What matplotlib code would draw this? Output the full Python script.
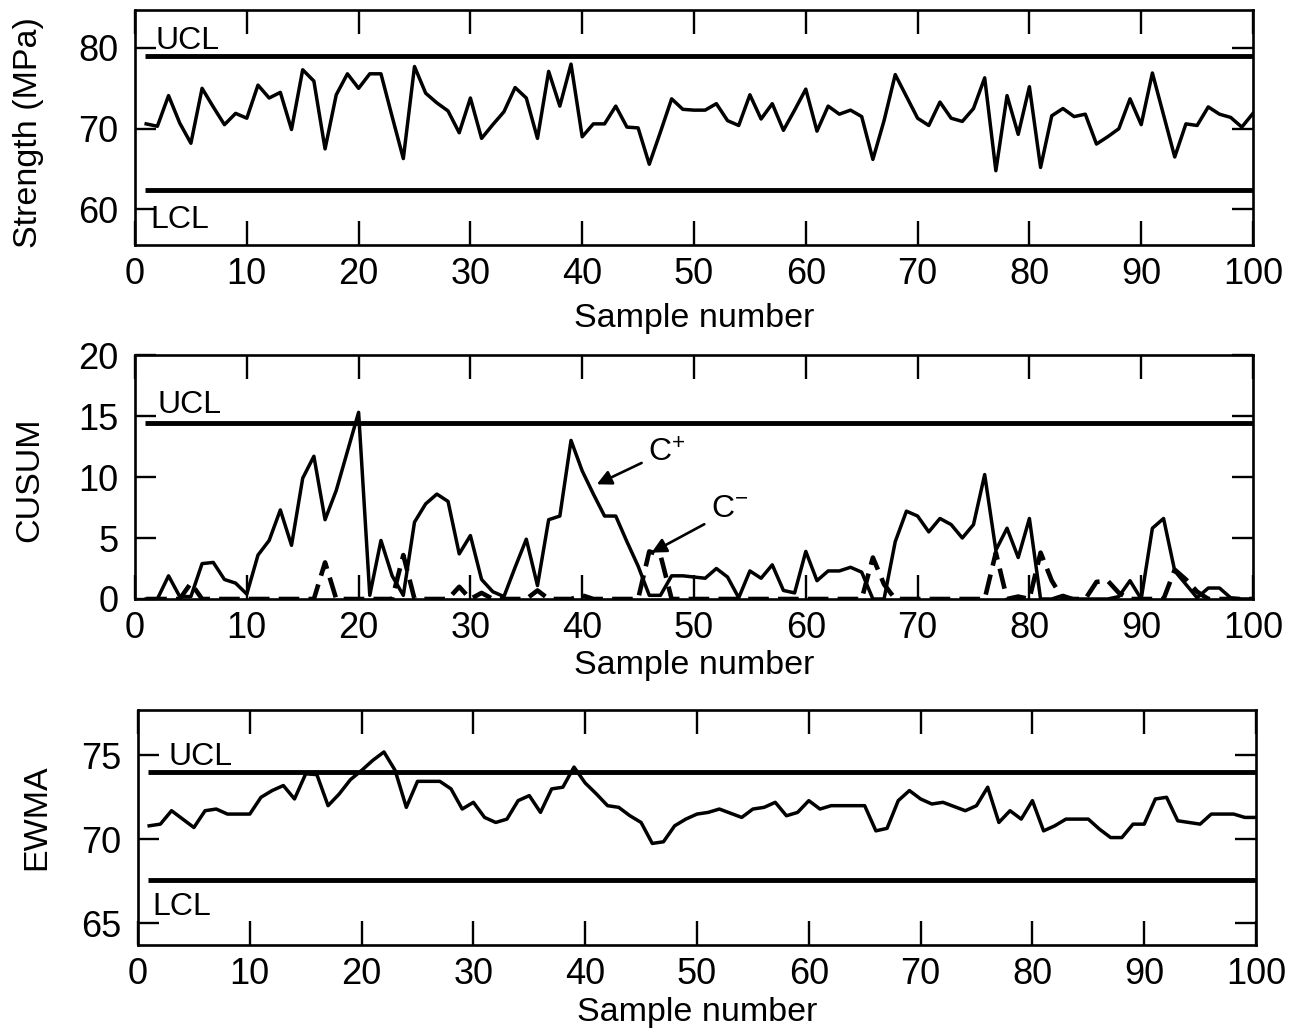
import numpy as np
import matplotlib
matplotlib.use('Agg')
import matplotlib.pyplot as plt

plt.rcParams['font.family'] = ['Liberation Sans', 'DejaVu Sans']
plt.rcParams['mathtext.fontset'] = 'custom'
plt.rcParams['mathtext.rm'] = 'Liberation Sans'
plt.rcParams['mathtext.it'] = 'Liberation Sans:italic'

samples = list(range(1, 101))

# strength of each sample (MPa)
strength = [70.6, 70.3, 74.1, 70.7, 68.2, 75.0, 72.7, 70.5, 71.9, 71.3,
            75.4, 73.8, 74.5, 69.9, 77.3, 75.9, 67.5, 74.2, 76.8, 75.0,
            76.8, 76.8, 71.5, 66.3, 77.7, 74.4, 73.2, 72.2, 69.5, 73.8,
            68.8, 70.5, 72.1, 75.1, 73.8, 68.8, 77.1, 72.8, 78.0, 69.0,
            70.6, 70.6, 72.8, 70.2, 70.1, 65.6, 69.6, 73.7, 72.4, 72.3,
            72.3, 73.1, 71.0, 70.4, 74.2, 71.2, 73.1, 69.8, 72.3, 74.9,
            69.7, 72.8, 71.8, 72.3, 71.5, 66.2, 71.0, 76.7, 74.0, 71.3,
            70.4, 73.3, 71.3, 70.9, 72.5, 76.3, 64.8, 74.1, 69.3, 75.2,
            65.2, 71.6, 72.5, 71.5, 71.8, 68.1, 69.0, 70.0, 73.7, 70.5,
            76.9, 71.7, 66.5, 70.6, 70.4, 72.7, 71.8, 71.4, 70.2, 71.9]

c_plus = [0, 0, 1.9, 0.2, 0.2, 2.9, 3.0, 1.6, 1.3, 0.4,
          3.6, 4.8, 7.3, 4.4, 9.9, 11.7, 6.5, 8.9, 12.1, 15.3,
          0.3, 4.8, 1.9, 0.3, 6.3, 7.8, 8.6, 8.0, 3.7, 5.2,
          1.6, 0.6, 0.2, 2.6, 4.9, 1.1, 6.5, 6.8, 13.0, 10.5,
          8.6, 6.8, 6.8, 4.7, 2.7, 0.3, 0.3, 1.9, 1.9, 1.8,
          1.7, 2.5, 1.8, 0.1, 2.3, 1.7, 2.8, 0.7, 0.5, 3.9,
          1.5, 2.3, 2.3, 2.6, 2.2, 0, 0, 4.7, 7.2, 6.8,
          5.5, 6.6, 6.1, 5.0, 6.1, 10.2, 4.0, 5.8, 3.4, 6.6,
          0, 0, 0.3, 0, 0, 0, 0, 0.2, 1.5, 0,
          5.8, 6.6, 2.3, 1.2, 0.1, 0.9, 0.9, 0.1, 0, 0]

c_minus = [0, 0, 0, 0, 1.3, 0, 0, 0, 0, 0,
           0, 0, 0, 0, 0, 0, 3.0, 0, 0, 0,
           0, 0, 0, 3.6, 0, 0, 0, 0, 1.0, 0,
           0.5, 0, 0, 0, 0, 0.7, 0, 0, 0, 0.3,
           0, 0, 0, 0, 0, 3.9, 3.6, 0, 0, 0,
           0, 0, 0, 0, 0, 0, 0, 0, 0, 0,
           0, 0, 0, 0, 0, 3.4, 1.2, 0, 0, 0,
           0, 0, 0, 0, 0, 0, 3.8, 0, 0.2, 0,
           3.8, 1.5, 0, 0, 0, 1.4, 1.5, 0.5, 0, 0,
           0, 0, 2.4, 1.6, 0.6, 0, 0, 0, 0, 0]

ewma = [70.8, 70.9, 71.7, 71.2, 70.7, 71.7, 71.8, 71.5, 71.5, 71.5,
        72.5, 72.9, 73.2, 72.4, 73.9, 73.85, 72.0, 72.7, 73.55, 74.1,
        74.7, 75.2, 74.1, 71.9, 73.45, 73.45, 73.45, 73.0, 71.8, 72.2,
        71.3, 71.0, 71.2, 72.3, 72.6, 71.6, 73.0, 73.1, 74.3, 73.35,
        72.7, 72.0, 71.9, 71.4, 71.0, 69.75, 69.85, 70.8, 71.2, 71.5,
        71.6, 71.8, 71.55, 71.3, 71.8, 71.9, 72.2, 71.4, 71.6, 72.3,
        71.8, 72.0, 72.0, 72.0, 72.0, 70.5, 70.65, 72.3, 72.9, 72.4,
        72.1, 72.2, 71.95, 71.7, 72.0, 73.1, 71.0, 71.7, 71.2, 72.3,
        70.5, 70.8, 71.2, 71.2, 71.2, 70.6, 70.1, 70.1, 70.9, 70.9,
        72.4, 72.5, 71.1, 71.0, 70.9, 71.5, 71.5, 71.5, 71.3, 71.3]

# control limits
shew_ucl, shew_lcl = 78.95, 62.4
cusum_h = 14.4
ewma_ucl, ewma_lcl = 74.0, 67.6

W, H = 1297, 1032
fig = plt.figure(figsize=(W / 100, H / 100), dpi=100)


def px_axes(left, right, top, bottom):
    return fig.add_axes([left / W, 1 - bottom / H, (right - left) / W, (bottom - top) / H])


def style(ax, yticks):
    ax.set_xlim(0, 100)
    ax.set_xticks(range(0, 101, 10))
    ax.set_yticks(yticks)
    ax.tick_params(axis='x', direction='in', top=True, length=17, width=1.7,
                   labelsize=26, pad=9)
    ax.tick_params(axis='y', direction='in', right=True, length=15, width=1.7,
                   labelsize=26, pad=12)
    for s in ax.spines.values():
        s.set_linewidth(1.9)


lw_data = 2.5
lw_lim = 3.5
fs_lab = 24.5
fs_txt = 23

# Shewhart chart
ax1 = px_axes(135, 1253, 10, 245)
ax1.plot(samples, strength, color='black', lw=lw_data)
ax1.hlines([shew_ucl, shew_lcl], 0.9, 100, color='black', lw=lw_lim)
ax1.set_ylim(55.6, 84.7)
style(ax1, [60, 70, 80])
ax1.text(1.8, 79.9, 'UCL', fontsize=fs_txt, ha='left', va='baseline')
ax1.text(1.35, 57.7, 'LCL', fontsize=fs_txt, ha='left', va='baseline')
ax1.set_xlabel('Sample number', fontsize=fs_lab)
ax1.set_ylabel('Strength (MPa)', fontsize=fs_lab)
ax1.xaxis.set_label_coords(0.5, -0.245)
ax1.yaxis.set_label_coords(-0.081, 0.48)

# CUSUM chart
ax2 = px_axes(135, 1253, 355, 599)
ax2.plot(samples, c_minus, color='black', lw=3.3, dashes=(4.5, 2.0))
ax2.plot(samples, c_plus, color='black', lw=lw_data)
ax2.hlines(cusum_h, 0.9, 100, color='black', lw=lw_lim)
ax2.set_ylim(0, 20)
style(ax2, [0, 5, 10, 15, 20])
ax2.text(2.0, 15.25, 'UCL', fontsize=fs_txt, ha='left', va='baseline')
ax2.annotate(r'$\mathrm{C}^{+}$', xy=(41.3, 9.4), xytext=(45.9, 11.9),
             fontsize=fs_txt, ha='left', va='center',
             arrowprops=dict(arrowstyle='-|>', color='black', lw=1.9,
                             mutation_scale=22, relpos=(0, 0.3), shrinkA=3, shrinkB=0))
ax2.annotate(r'$\mathrm{C}^{-}$', xy=(46.2, 3.8), xytext=(51.5, 7.4),
             fontsize=fs_txt, ha='left', va='center',
             arrowprops=dict(arrowstyle='-|>', color='black', lw=1.9,
                             mutation_scale=22, relpos=(0, 0.1), shrinkA=3, shrinkB=0))
ax2.set_xlabel('Sample number', fontsize=fs_lab)
ax2.set_ylabel('CUSUM', fontsize=fs_lab)
ax2.xaxis.set_label_coords(0.5, -0.21)
ax2.yaxis.set_label_coords(-0.08, 0.49)

# EWMA chart
ax3 = px_axes(138, 1256, 710, 945)
ax3.plot(samples, ewma, color='black', lw=lw_data)
ax3.hlines([ewma_ucl, ewma_lcl], 0.9, 100, color='black', lw=lw_lim)
ax3.set_ylim(63.7, 77.7)
style(ax3, [65, 70, 75])
ax3.text(2.7, 74.4, 'UCL', fontsize=fs_txt, ha='left', va='baseline')
ax3.text(1.25, 65.5, 'LCL', fontsize=fs_txt, ha='left', va='baseline')
ax3.set_xlabel('Sample number', fontsize=fs_lab)
ax3.set_ylabel('EWMA', fontsize=fs_lab)
ax3.xaxis.set_label_coords(0.5, -0.22)
ax3.yaxis.set_label_coords(-0.077, 0.545)

fig.savefig('out.png', dpi=100)
